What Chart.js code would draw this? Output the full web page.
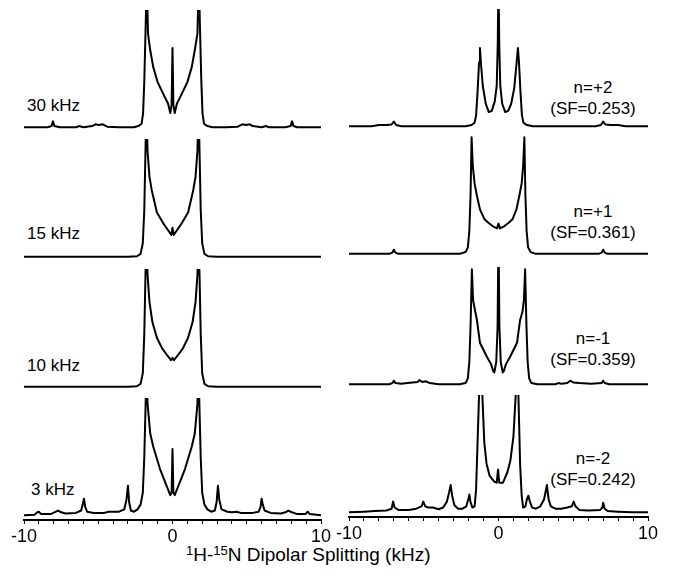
<!DOCTYPE html>
<html>
<head>
<meta charset="utf-8">
<script src="https://cdn.jsdelivr.net/npm/chart.js@4.4.1/dist/chart.umd.min.js"></script>
<style>
  body { margin: 0; background: #fff; width: 687px; height: 578px; position: relative; overflow: hidden;
         font-family: "Liberation Sans", Arial, Helvetica, sans-serif; color: #000; }
  canvas { position: absolute; }
  .lbl { position: absolute; font-size: 17px; line-height: 21px; white-space: nowrap; }
  .rt { width: 140px; text-align: center; }
  #xtitle { position: absolute; font-size: 19px; line-height: 23px; white-space: nowrap; }
  #xtitle sup { font-size: 13px; vertical-align: 6px; line-height: 0; }
</style>
</head>
<body>
<div class="lbl" style="left:27px;top:95px">30 kHz</div>
<div class="lbl" style="left:27px;top:223px">15 kHz</div>
<div class="lbl" style="left:27px;top:355px">10 kHz</div>
<div class="lbl" style="left:31px;top:479px">3 kHz</div>
<div class="lbl rt" style="left:523px;top:77px">n=+2<br>(SF=0.253)</div>
<div class="lbl rt" style="left:523px;top:201px">n=+1<br>(SF=0.361)</div>
<div class="lbl rt" style="left:523px;top:328px">n=-1<br>(SF=0.359)</div>
<div class="lbl rt" style="left:523px;top:448px">n=-2<br>(SF=0.242)</div>
<div id="xtitle" style="left:186px;top:543px"><sup>1</sup>H-<sup>15</sup>N Dipolar Splitting (kHz)</div>

<script>
// shared x axis (kHz) and the labelled ticks
const xRange = [-10, 10];
const tickLabels = [-10, 0, 10];

// left column: MAS rate, spectra as [kHz, relative intensity]
const mas30 = [[-10,0.01],[-9.3,0.01],[-8.4,0.01],[-8.15,0.02],[-8.05,0.06],[-7.95,0.02],[-7.6,0.01],[-6.5,0.01],[-6.3,0.02],[-6,0.01],
  [-5.4,0.02],[-5.2,0.035],[-4.95,0.03],[-4.7,0.035],[-4.4,0.015],[-3.6,0.01],[-2.6,0.01],[-2.3,0.02],[-2.08,0.04],[-1.98,0.13],
  [-1.9,0.4],[-1.8,0.9],[-1.73,1.3],[-1.65,0.8],[-1.5,0.66],[-1.3,0.52],[-1.0,0.39],[-0.5,0.26],[-0.3,0.21],[-0.15,0.13],
  [-0.06,0.2],[0,0.68],[0.06,0.2],[0.15,0.13],[0.3,0.21],[0.5,0.26],[1.0,0.39],[1.3,0.52],[1.5,0.66],[1.68,0.8],
  [1.77,1.3],[1.84,0.9],[1.94,0.4],[2.02,0.13],[2.12,0.04],[2.35,0.02],[2.7,0.01],[3.6,0.01],[4.4,0.015],[4.7,0.035],
  [4.95,0.03],[5.2,0.035],[5.4,0.02],[6,0.01],[6.3,0.02],[6.5,0.01],[7.6,0.01],[7.95,0.02],[8.05,0.06],[8.15,0.02],[8.4,0.01],[10,0.01]];

const mas15 = [[-10,0.005],[-3,0.005],[-2.4,0.01],[-2.15,0.03],[-2.0,0.12],[-1.9,0.4],[-1.82,0.9],[-1.75,1.3],[-1.68,0.9],[-1.55,0.68],
  [-1.4,0.57],[-1.05,0.38],[-0.63,0.29],[-0.3,0.23],[-0.08,0.19],[0,0.25],[0.08,0.19],[0.3,0.23],[0.63,0.29],[1.05,0.38],
  [1.4,0.57],[1.55,0.68],[1.68,0.9],[1.75,1.3],[1.82,0.9],[1.9,0.4],[2.0,0.12],[2.15,0.03],[2.4,0.01],[3,0.005],[10,0.005]];

const mas10 = [[-10,0.005],[-3,0.005],[-2.4,0.01],[-2.15,0.03],[-2.0,0.12],[-1.9,0.45],[-1.82,0.95],[-1.75,1.3],[-1.68,0.95],[-1.55,0.72],
  [-1.35,0.55],[-1.05,0.42],[-0.7,0.33],[-0.35,0.27],[-0.1,0.23],[0,0.25],[0.1,0.23],[0.35,0.27],[0.7,0.33],[1.05,0.42],
  [1.35,0.55],[1.55,0.72],[1.68,0.95],[1.75,1.3],[1.82,0.95],[1.9,0.45],[2.0,0.12],[2.15,0.03],[2.4,0.01],[3,0.005],[10,0.005]];

const mas3 = [[-10,0.01],[-9.3,0.015],[-9.1,0.035],[-9.0,0.04],[-8.85,0.02],[-8.2,0.02],[-7.85,0.04],[-7.7,0.05],[-7.5,0.035],[-7.2,0.025],
  [-6.5,0.03],[-6.15,0.05],[-6.05,0.1],[-5.96,0.15],[-5.88,0.08],[-5.75,0.04],[-5.3,0.03],[-4.6,0.03],[-4.3,0.04],[-4.0,0.04],
  [-3.6,0.04],[-3.25,0.06],[-3.1,0.14],[-3.0,0.26],[-2.92,0.12],[-2.8,0.05],[-2.6,0.04],[-2.35,0.06],[-2.15,0.1],[-2.0,0.2],
  [-1.9,0.5],[-1.8,1.0],[-1.75,1.3],[-1.68,0.95],[-1.5,0.7],[-1.3,0.59],[-0.84,0.4],[-0.37,0.25],[-0.15,0.18],[-0.06,0.2],
  [0,0.57],[0.06,0.2],[0.15,0.18],[0.37,0.25],[0.84,0.4],[1.3,0.59],[1.5,0.7],[1.68,0.95],[1.75,1.3],[1.8,1.0],
  [1.9,0.5],[2.0,0.2],[2.15,0.1],[2.35,0.06],[2.6,0.04],[2.85,0.05],[2.97,0.12],[3.06,0.26],[3.15,0.14],[3.3,0.06],
  [3.7,0.04],[4.0,0.035],[4.3,0.04],[4.6,0.03],[5.4,0.03],[5.8,0.04],[5.93,0.08],[6.0,0.15],[6.08,0.1],[6.2,0.05],
  [6.6,0.03],[7.3,0.025],[7.6,0.035],[7.8,0.05],[7.95,0.04],[8.4,0.02],[8.95,0.02],[9.1,0.04],[9.25,0.02],[10,0.01]];

// right column: sideband order n
const nPlus2 = [[-10,0.01],[-8.5,0.01],[-8.0,0.02],[-7.5,0.02],[-7.15,0.025],[-7.0,0.05],[-6.85,0.02],[-6.5,0.01],[-2.2,0.01],[-1.8,0.02],
  [-1.6,0.04],[-1.5,0.1],[-1.4,0.3],[-1.3,0.55],[-1.24,0.67],[-1.18,0.55],[-1.05,0.35],[-0.85,0.2],[-0.65,0.13],[-0.45,0.14],
  [-0.25,0.22],[-0.12,0.35],[-0.05,0.7],[0,1.3],[0.05,0.7],[0.12,0.35],[0.25,0.2],[0.45,0.13],[0.65,0.14],[0.85,0.2],
  [1.05,0.33],[1.2,0.53],[1.3,0.67],[1.37,0.55],[1.47,0.3],[1.57,0.1],[1.67,0.04],[1.9,0.02],[2.3,0.01],[6.5,0.01],
  [6.85,0.02],[7.0,0.05],[7.15,0.025],[7.5,0.02],[8.0,0.02],[8.5,0.01],[10,0.01]];

const nPlus1 = [[-10,0.005],[-7.3,0.005],[-7.1,0.015],[-7.0,0.04],[-6.9,0.015],[-6.7,0.005],[-2.6,0.005],[-2.2,0.02],[-2.05,0.06],[-1.95,0.2],
  [-1.87,0.5],[-1.8,0.99],[-1.72,0.75],[-1.6,0.6],[-1.45,0.5],[-1.24,0.38],[-0.95,0.3],[-0.7,0.27],[-0.4,0.24],[-0.1,0.22],
  [0,0.26],[0.1,0.22],[0.4,0.24],[0.7,0.27],[0.95,0.3],[1.2,0.38],[1.4,0.5],[1.55,0.6],[1.65,0.75],[1.73,0.99],
  [1.8,0.5],[1.88,0.2],[1.98,0.06],[2.15,0.02],[2.5,0.005],[6.7,0.005],[6.9,0.015],[7.0,0.04],[7.1,0.015],[7.3,0.005],[10,0.005]];

const nMinus1 = [[-10,0.01],[-7.3,0.01],[-7.1,0.02],[-7.0,0.04],[-6.9,0.02],[-6.5,0.015],[-6.1,0.02],[-5.4,0.03],[-5.3,0.045],[-5.1,0.03],
  [-4.85,0.035],[-4.6,0.02],[-4.0,0.01],[-2.6,0.01],[-2.2,0.02],[-2.05,0.06],[-1.95,0.2],[-1.87,0.5],[-1.78,0.98],[-1.7,0.72],
  [-1.55,0.62],[-1.44,0.55],[-1.24,0.36],[-0.77,0.24],[-0.5,0.18],[-0.35,0.12],[-0.28,0.11],[-0.15,0.2],[-0.06,0.5],[0,1.3],
  [0.06,0.5],[0.15,0.2],[0.28,0.11],[0.35,0.12],[0.5,0.18],[0.77,0.24],[1.24,0.36],[1.44,0.55],[1.6,0.62],[1.7,0.72],
  [1.78,0.98],[1.87,0.5],[1.95,0.2],[2.05,0.06],[2.2,0.02],[2.6,0.01],[3.8,0.01],[4.0,0.02],[4.2,0.015],[4.6,0.02],
  [4.8,0.04],[5.0,0.025],[5.4,0.02],[6.2,0.015],[6.9,0.02],[7.0,0.04],[7.1,0.02],[7.4,0.01],[10,0.01]];

const nMinus2 = [[-10,0.01],[-9,0.015],[-8.3,0.02],[-7.5,0.025],[-7.15,0.04],[-7.05,0.1],[-6.95,0.05],[-6.7,0.03],[-6.0,0.03],[-5.5,0.04],
  [-5.15,0.06],[-5.03,0.1],[-4.9,0.06],[-4.7,0.05],[-4.4,0.05],[-4.0,0.035],[-3.7,0.05],[-3.45,0.1],[-3.3,0.18],[-3.2,0.24],
  [-3.1,0.15],[-2.95,0.07],[-2.7,0.04],[-2.4,0.04],[-2.15,0.06],[-2.0,0.13],[-1.95,0.16],[-1.88,0.1],[-1.75,0.05],[-1.6,0.06],
  [-1.5,0.2],[-1.4,0.6],[-1.3,1.0],[-1.17,1.3],[-1.08,1.0],[-0.95,0.6],[-0.8,0.42],[-0.6,0.32],[-0.3,0.27],[-0.12,0.26],
  [-0.03,0.37],[0.05,0.26],[0.3,0.26],[0.6,0.35],[0.8,0.45],[1.0,0.65],[1.15,1.0],[1.24,1.3],[1.33,1.0],[1.45,0.4],
  [1.55,0.15],[1.65,0.05],[1.8,0.06],[1.9,0.12],[2.0,0.15],[2.1,0.1],[2.25,0.05],[2.5,0.04],[2.8,0.06],[3.05,0.12],
  [3.24,0.24],[3.35,0.12],[3.5,0.06],[3.8,0.04],[4.2,0.04],[4.6,0.05],[4.9,0.06],[5.03,0.1],[5.15,0.06],[5.4,0.03],
  [6.0,0.025],[6.8,0.03],[6.95,0.05],[7.0,0.09],[7.1,0.04],[7.3,0.02],[8,0.015],[9,0.01],[10,0.01]];

// where each panel sits on the page (plot area left/width, top)
const PAD = 20;
const PANEL_H = 122;
const AXIS_H = 40;
const panels = [
  { data: mas30,   left: 24,  width: 297, top: 10 },
  { data: mas15,   left: 24,  width: 297, top: 139 },
  { data: mas10,   left: 24,  width: 297, top: 269 },
  { data: mas3,    left: 24,  width: 297, top: 398, axis: true },
  { data: nPlus2,  left: 349, width: 299, top: 9 },
  { data: nPlus1,  left: 349, width: 299, top: 136 },
  { data: nMinus1, left: 349, width: 299, top: 267 },
  { data: nMinus2, left: 349, width: 299, top: 395, axis: true },
];

const FONT = '"Liberation Sans", Arial, Helvetica, sans-serif';

panels.forEach((p) => {
  const cv = document.createElement('canvas');
  cv.width = p.width + 2 * PAD;
  cv.height = PANEL_H + (p.axis ? AXIS_H : 0);
  cv.style.left = (p.left - PAD) + 'px';
  cv.style.top = p.top + 'px';
  document.body.appendChild(cv);

  const xAxis = {
    type: 'linear',
    min: xRange[0],
    max: xRange[1],
    display: !!p.axis,
    border: { display: true, color: '#000', width: 2 },
    grid: { drawOnChartArea: false, drawTicks: true, tickLength: 4, color: '#000', lineWidth: 1 },
    ticks: {
      stepSize: 1,
      autoSkip: false,
      maxRotation: 0,
      padding: 2,
      color: '#000',
      font: { family: FONT, size: 18 },
      callback: (v) => (tickLabels.includes(v) ? String(v) : ''),
    },
  };
  if (p.axis) xAxis.afterFit = (s) => { s.height = AXIS_H; };

  new Chart(cv.getContext('2d'), {
    type: 'line',
    data: {
      datasets: [{
        data: p.data.map(([x, y]) => ({ x, y })),
        borderColor: '#000',
        borderWidth: 2,
        borderJoinStyle: 'round',
        pointRadius: 0,
        tension: 0,
      }],
    },
    options: {
      responsive: false,
      animation: false,
      devicePixelRatio: 1,
      layout: { autoPadding: false, padding: { left: PAD, right: PAD, top: 0, bottom: 0 } },
      plugins: { legend: { display: false }, tooltip: { enabled: false } },
      scales: {
        x: xAxis,
        y: { min: -0.03, max: 1, display: false },
      },
    },
  });
});
</script>
</body>
</html>
